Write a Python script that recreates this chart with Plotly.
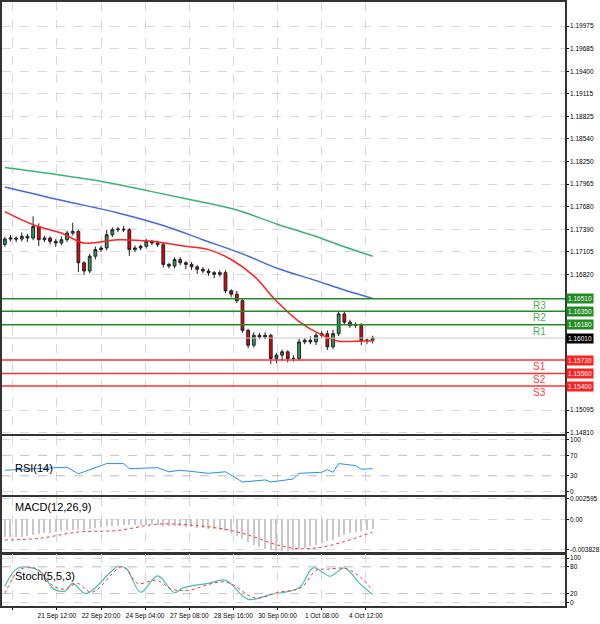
import plotly.graph_objects as go
from plotly.subplots import make_subplots

# candle closes (EURUSD H4)
closes = [1.17268, 1.17281, 1.17268, 1.17302, 1.17281, 1.17427, 1.17260, 1.17281, 1.17239, 1.17218,
          1.17260, 1.17344, 1.17365, 1.16967, 1.16862, 1.17050, 1.17134, 1.17155, 1.17323, 1.17386,
          1.17394, 1.17386, 1.17134, 1.17155, 1.17176, 1.17239, 1.17218, 1.17197, 1.16946, 1.16925,
          1.17008, 1.16967, 1.16946, 1.16916, 1.16883, 1.16862, 1.16841, 1.16820, 1.16841, 1.16610,
          1.16568, 1.16485, 1.16108, 1.15919, 1.16045, 1.16024, 1.16045, 1.15751, 1.15793, 1.15835,
          1.15751, 1.15751, 1.15961, 1.15982, 1.15961, 1.16045, 1.16066, 1.15898, 1.16066, 1.16317,
          1.16212, 1.16170, 1.16170, 1.15982, 1.15982, 1.16010]
first_open = 1.17200
up_wick = [3, 4, 2, 5, 3, 13, 4, 3, 2, 3, 4, 3, 11, 2, 2, 3, 4, 3, 6, 3,
           3, 4, 2, 3, 2, 3, 2, 3, 3, 2, 3, 3, 2, 3, 2, 3, 3, 2, 3, 3,
           2, 4, 3, 2, 4, 3, 4, 2, 3, 3, 2, 4, 4, 3, 5, 3, 3, 4, 5, 4,
           3, 3, 4, 3, 2, 3]
dn_wick = [3, 3, 4, 3, 5, 3, 8, 3, 4, 5, 3, 3, 3, 12, 5, 3, 4, 3, 3, 3,
           3, 3, 8, 3, 3, 3, 3, 3, 4, 3, 3, 3, 6, 4, 6, 3, 4, 5, 3, 3,
           4, 3, 3, 4, 3, 3, 3, 7, 6, 7, 5, 4, 3, 3, 3, 4, 3, 4, 3, 3,
           3, 3, 3, 6, 5, 4]

# moving averages: (candle index, price)
ma_red = [(0, 1.17616), (5, 1.17450), (10, 1.17344), (14, 1.17218), (20, 1.17260), (26, 1.17239),
          (32, 1.17176), (36, 1.17134), (40, 1.17008), (44, 1.16800), (48, 1.16480), (52, 1.16220),
          (56, 1.16050), (59, 1.15970), (62, 1.15970), (65, 1.15975)]
ma_blue = [(0, 1.17930), (10, 1.17760), (20, 1.17600), (28, 1.17440), (35, 1.17260), (42, 1.17080),
           (48, 1.16900), (55, 1.16740), (60, 1.16620), (65, 1.16514)]
ma_green = [(0, 1.18177), (8, 1.18100), (16, 1.18014), (24, 1.17900), (32, 1.17780), (41, 1.17637),
            (48, 1.17460), (55, 1.17300), (60, 1.17170), (65, 1.17050)]

res_levels = [1.16510, 1.16350, 1.16180]
res_names = ["R3", "R2", "R1"]
sup_levels = [1.15730, 1.15560, 1.15400]
sup_names = ["S1", "S2", "S3"]
last_price = 1.16010

price_ticks = [1.19975, 1.19685, 1.19400, 1.19115, 1.18825, 1.18540, 1.18250, 1.17965, 1.17680,
               1.17390, 1.17105, 1.16820, 1.15095, 1.14810]

rsi_pts = [(0, 41), (11, 47), (13, 34), (16, 46), (18, 54), (21, 54), (22, 44), (27, 46), (29, 38),
           (31, 41), (36, 35), (39, 38), (42, 18), (46, 22), (47, 18), (51, 24), (52, 35), (56, 37),
           (57, 42), (58, 37), (59, 54), (62, 50), (63, 43), (65, 44)]

macd_hist = [-0.0023, -0.0023, -0.0022, -0.0022, -0.0021, -0.0020, -0.0019, -0.0018, -0.0017, -0.0016,
             -0.0015, -0.0014, -0.0013, -0.0013, -0.0013, -0.0012, -0.0011, -0.0010, -0.0009, -0.0008,
             -0.0008, -0.0007, -0.0007, -0.0007, -0.0007, -0.0007, -0.0006, -0.0007, -0.0008, -0.0008,
             -0.0009, -0.0009, -0.0010, -0.0010, -0.0011, -0.0011, -0.0012, -0.0012, -0.0013, -0.0015,
             -0.0018, -0.0021, -0.0025, -0.0029, -0.0032, -0.0035, -0.0037, -0.0039, -0.0040, -0.0040,
             -0.0040, -0.0039, -0.0037, -0.0036, -0.0034, -0.0032, -0.0030, -0.0028, -0.0026, -0.0023,
             -0.0020, -0.0018, -0.0016, -0.0015, -0.0014, -0.0012]
macd_sig = [(0, -0.0026), (6, -0.0024), (13, -0.0016), (20, -0.0014), (27, -0.0006), (34, -0.0008),
            (40, -0.0014), (44, -0.0022), (48, -0.0032), (52, -0.0037), (56, -0.0035), (60, -0.0028),
            (63, -0.0021), (65, -0.0016)]

stoch_k = [(0, 36), (2.3, 77), (6, 72), (8.7, 30), (10.7, 26), (12, 43), (14.4, 20), (20, 81), (21.5, 76),
           (24, 23), (27, 60), (30, 22), (31.5, 33), (36, 43), (39, 50), (43, 7), (47, 18), (52, 33),
           (54.5, 78), (57.5, 59), (60, 78), (62.7, 43), (65, 18)]
stoch_d = [(0, 20), (2.7, 74), (5.4, 77), (8.7, 36), (10.7, 30), (12.8, 43), (15.4, 23), (20.8, 80),
           (23.5, 43), (26.8, 50), (29.5, 30), (32.2, 27), (39, 46), (44.3, 10), (48.3, 23), (52.3, 33),
           (55, 72), (57, 75), (60.4, 76), (63, 55), (65, 26)]

tick_pos = [1.4, 9.2, 17.0, 24.8, 32.6, 40.4, 48.2, 56.0, 63.8]
tick_text = ["20 Sep 04:00", "21 Sep 12:00", "22 Sep 20:00", "24 Sep 04:00", "27 Sep 08:00",
             "28 Sep 16:00", "30 Sep 00:00", "1 Oct 08:00", "4 Oct 12:00"]

idx = list(range(len(closes)))
opens = [first_open] + closes[:-1]
highs = [max(o, c) + w * 0.0001 for o, c, w in zip(opens, closes, up_wick)]
lows = [min(o, c) - w * 0.0001 for o, c, w in zip(opens, closes, dn_wick)]

fig = make_subplots(rows=4, cols=1, shared_xaxes=True, vertical_spacing=0.003,
                    row_heights=[436, 60, 56, 52])

fig.add_trace(go.Candlestick(x=idx, open=opens, high=highs, low=lows, close=closes,
                             increasing=dict(fillcolor="#2e9e5b", line=dict(color="#222", width=1)),
                             decreasing=dict(fillcolor="#e8000b", line=dict(color="#222", width=1)),
                             whiskerwidth=0, showlegend=False), row=1, col=1)

for pts, col in [(ma_green, "#3cb371"), (ma_blue, "#4169e1"), (ma_red, "#ff2020")]:
    fig.add_trace(go.Scatter(x=[p[0] for p in pts], y=[p[1] for p in pts], mode="lines",
                             line=dict(color=col, width=1.5, shape="spline"), showlegend=False),
                  row=1, col=1)

fig.add_trace(go.Scatter(x=[p[0] for p in rsi_pts], y=[p[1] for p in rsi_pts], mode="lines",
                         line=dict(color="#1e90ff", width=1), showlegend=False), row=2, col=1)
fig.add_trace(go.Bar(x=idx, y=macd_hist, marker=dict(color="#c8c8c8", line_width=0), width=0.2,
                     showlegend=False), row=3, col=1)
fig.add_trace(go.Scatter(x=[p[0] for p in macd_sig], y=[p[1] for p in macd_sig], mode="lines",
                         line=dict(color="#ff3030", width=1, dash="dot", shape="spline"),
                         showlegend=False), row=3, col=1)
fig.add_trace(go.Scatter(x=[p[0] for p in stoch_k], y=[p[1] for p in stoch_k], mode="lines",
                         line=dict(color="#40c0b0", width=1.2, shape="spline"), showlegend=False),
              row=4, col=1)
fig.add_trace(go.Scatter(x=[p[0] for p in stoch_d], y=[p[1] for p in stoch_d], mode="lines",
                         line=dict(color="#ff3030", width=1, dash="dot", shape="spline"),
                         showlegend=False), row=4, col=1)

fnt = dict(family="Liberation Sans, Arial", size=6.5, color="#000")
grid = dict(showgrid=True, gridcolor="#d8d8d8", griddash="dash", gridwidth=1, zeroline=False,
            showline=True, linecolor="#333", linewidth=1.5, mirror=True, ticks="outside",
            ticklen=2, tickcolor="#000", tickfont=fnt)

fig.update_xaxes(range=[-0.5, 99], tickvals=tick_pos, ticktext=tick_text, rangeslider_visible=False,
                 **grid)
fig.update_xaxes(showticklabels=False, row=1, col=1)
fig.update_xaxes(showticklabels=False, row=2, col=1)
fig.update_xaxes(showticklabels=False, row=3, col=1)
fig.update_yaxes(side="right", ticklabelstandoff=0, **grid)
fig.update_yaxes(range=[1.1479, 1.2028], tickvals=price_ticks, tickformat=".5f", row=1, col=1)
fig.update_yaxes(range=[-8, 108], tickvals=[0, 30, 70, 100], row=2, col=1)
fig.update_yaxes(range=[-0.0042, 0.0028], tickvals=[0.002595, 0.0, -0.003828],
                 ticktext=["0.002595", "0.00", "-0.003828"], row=3, col=1)
fig.update_yaxes(range=[-8, 108], tickvals=[0, 20, 80, 100], row=4, col=1)

for lv in res_levels:
    fig.add_hline(y=lv, line=dict(color="#228b22", width=1.5), row=1, col=1)
for lv in sup_levels:
    fig.add_hline(y=lv, line=dict(color="#ff3030", width=1.5), row=1, col=1)
fig.add_hline(y=last_price, line=dict(color="#c8c8c8", width=1), row=1, col=1)
for lv in [30, 70]:
    fig.add_hline(y=lv, line=dict(color="#c8c8c8", width=1, dash="dash"), row=2, col=1)
for lv in [20, 80]:
    fig.add_hline(y=lv, line=dict(color="#c8c8c8", width=1, dash="dash"), row=4, col=1)

boxes = [(v, "#228b22", "#fff") for v in res_levels] + [(v, "#ff2020", "#fff") for v in sup_levels] \
    + [(last_price, "#000", "#fff")]
for v, bg, fc in boxes:
    fig.add_annotation(x=1.0, xref="paper", y=v, yref="y", text="%.5f" % v, showarrow=False,
                       xanchor="left", xshift=1, bgcolor=bg,
                       font=dict(family="Liberation Sans", size=6.5, color=fc), borderpad=1)
for v, nm, nxt in zip(res_levels, res_names, res_levels[1:] + [last_price]):
    fig.add_annotation(x=94.5, y=(v + nxt) / 2, xref="x", yref="y", text=nm, showarrow=False,
                       font=dict(family="Liberation Sans", size=10, color="#4caf50"))
for v, nm in zip(sup_levels, sup_names):
    fig.add_annotation(x=94.5, y=v - 0.0008, xref="x", yref="y", text=nm, showarrow=False,
                       font=dict(family="Liberation Sans", size=10, color="#ff4040"))

for txt, yr, yv in [("RSI(14)", "y2", 46), ("MACD(12,26,9)", "y3", 0.0015), ("Stoch(5,5,3)", "y4", 60)]:
    fig.add_annotation(x=1.5, y=yv, xref="x", yref=yr, text=txt, showarrow=False, xanchor="left",
                       font=dict(family="Liberation Sans", size=11, color="#000"))

fig.update_layout(width=600, height=624, margin=dict(l=0, r=34, t=0, b=18),
                  plot_bgcolor="#fff", paper_bgcolor="#fff", bargap=0)
fig.write_html("out.html", config={"displayModeBar": False},
               post_script="document.body.style.margin='0';document.body.style.overflow='hidden';")
